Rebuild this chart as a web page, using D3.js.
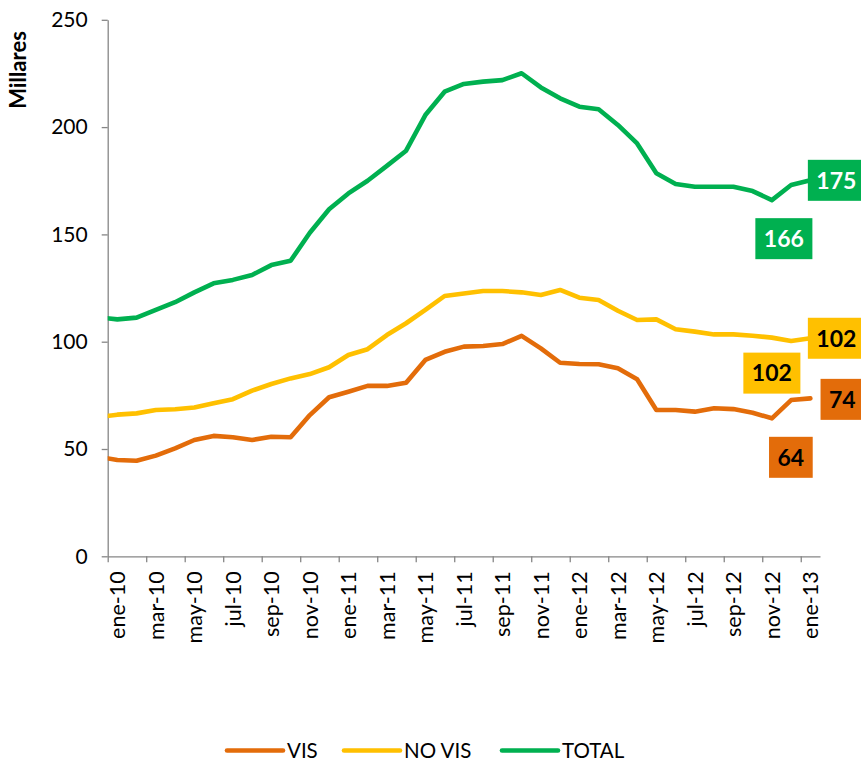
<!DOCTYPE html>
<html>
<head>
<meta charset="utf-8">
<script src="https://cdn.jsdelivr.net/npm/d3@7/dist/d3.min.js"></script>
<style>
  html, body { margin: 0; padding: 0; background: #ffffff; }
  svg { display: block; }
  text { font-family: "Lato", "Open Sans", "Liberation Sans", sans-serif; }
</style>
</head>
<body>
<svg id="chart" width="861" height="762"></svg>
<script>
// ---- data ----
const months = ["dic-09",
  "ene-10","feb-10","mar-10","abr-10","may-10","jun-10","jul-10","ago-10","sep-10","oct-10","nov-10","dic-10",
  "ene-11","feb-11","mar-11","abr-11","may-11","jun-11","jul-11","ago-11","sep-11","oct-11","nov-11","dic-11",
  "ene-12","feb-12","mar-12","abr-12","may-12","jun-12","jul-12","ago-12","sep-12","oct-12","nov-12","dic-12",
  "ene-13"];
const vis = [46.4,
  44.9, 44.5, 46.9, 50.3, 54.2, 56.1, 55.5, 54.2, 55.7, 55.5, 65.8, 74.1,
  76.7, 79.4, 79.4, 80.9, 91.5, 95.3, 97.7, 98.0, 98.9, 102.7, 96.9, 90.2,
  89.6, 89.5, 87.6, 82.5, 68.2, 68.2, 67.4, 69.0, 68.6, 66.9, 64.3, 72.8,
  73.6];
const noVis = [64.8,
  66.0, 66.6, 68.2, 68.5, 69.3, 71.3, 73.2, 77.2, 80.3, 82.9, 84.9, 88.1,
  93.8, 96.5, 103.1, 108.6, 114.8, 121.3, 122.5, 123.6, 123.6, 123.0, 121.8, 124.1,
  120.5, 119.4, 114.4, 110.1, 110.4, 105.8, 104.7, 103.4, 103.4, 102.8, 101.9, 100.3,
  101.6];
const total = [111.4,
  110.4, 111.2, 114.8, 118.4, 123.0, 127.2, 128.8, 131.1, 135.7, 137.7, 150.8, 161.7,
  169.1, 175.0, 181.9, 189.0, 205.6, 216.5, 220.1, 221.2, 221.9, 225.1, 218.5, 213.4,
  209.5, 208.3, 201.0, 192.4, 178.5, 173.5, 172.2, 172.2, 172.2, 170.2, 166.0, 173.0,
  175.2];
const seriesNames = ["VIS", "NO VIS", "TOTAL"];
const xTickLabels = ["ene-10","mar-10","may-10","jul-10","sep-10","nov-10","ene-11","mar-11","may-11",
  "jul-11","sep-11","nov-11","ene-12","mar-12","may-12","jul-12","sep-12","nov-12","ene-13"];
const yTicks = [0, 50, 100, 150, 200, 250];
const yTitle = "Millares";
const labelMonths = ["ene-13", "nov-12"];

(function draw() {
  const colors = { "VIS": "#E36C0A", "NO VIS": "#FFC000", "TOTAL": "#00B050" };
  const labelText = { "VIS": "#000000", "NO VIS": "#000000", "TOTAL": "#ffffff" };
  const svg = d3.select("#chart");
  const mLeft = 107.7, mRight = 820, mTop = 19.8, mBottom = 556.3;
  const firstIdx = months.indexOf("ene-10");
  const nSlots = months.length - firstIdx; // 37

  const x = d3.scaleLinear().domain([0, nSlots]).range([mLeft, mRight]);
  const xPos = i => x(i - firstIdx + 0.5);
  const y = d3.scaleLinear().domain([0, 250]).range([mBottom, mTop]);
  const axisColor = "#868686";

  svg.append("defs").append("clipPath").attr("id", "plotclip")
    .append("rect").attr("x", mLeft).attr("y", 0).attr("width", 861 - mLeft).attr("height", mBottom + 2);

  // y axis
  const yAxis = svg.append("g").attr("transform", `translate(${mLeft},0)`)
    .call(d3.axisLeft(y).tickValues(yTicks).tickSize(6).tickSizeOuter(0).tickPadding(14).tickFormat(d3.format("d")));
  yAxis.select(".domain").attr("stroke", axisColor).attr("stroke-width", 1.3);
  yAxis.selectAll(".tick line").attr("stroke", axisColor).attr("stroke-width", 1.3);
  yAxis.selectAll(".tick text").attr("font-size", 21).attr("fill", "#000")
    .style("font-family", "Lato, 'Open Sans', sans-serif");

  // x axis
  const tickBounds = d3.range(0, nSlots, 2);
  const xAxis = svg.append("g").attr("transform", `translate(0,${mBottom})`)
    .call(d3.axisBottom(x).tickValues(tickBounds).tickSize(6).tickSizeOuter(0).tickFormat(""));
  xAxis.select(".domain").attr("stroke", axisColor).attr("stroke-width", 1.3);
  xAxis.selectAll(".tick line").attr("stroke", axisColor).attr("stroke-width", 1.3);

  svg.append("g").selectAll("text").data(xTickLabels).join("text")
    .attr("transform", d => `translate(${xPos(months.indexOf(d))},${mBottom + 15}) rotate(-90)`)
    .attr("text-anchor", "end")
    .attr("dy", "0.36em")
    .attr("font-size", 21.5)
    .attr("fill", "#000")
    .text(d => d);

  svg.append("text")
    .attr("transform", "translate(26,70) rotate(-90)")
    .attr("text-anchor", "middle")
    .attr("font-size", 22)
    .attr("font-weight", "bold")
    .attr("fill", "#000")
    .text(yTitle);

  const seriesData = [
    { name: "VIS", values: vis },
    { name: "NO VIS", values: noVis },
    { name: "TOTAL", values: total }
  ];
  const line = d3.line().x((d, i) => xPos(i)).y(d => y(d));
  svg.append("g").attr("clip-path", "url(#plotclip)")
    .selectAll("path").data(seriesData).join("path")
    .attr("d", d => line(d.values))
    .attr("fill", "none")
    .attr("stroke", d => colors[d.name])
    .attr("stroke-width", 4.6)
    .attr("stroke-linejoin", "round")
    .attr("stroke-linecap", "round");

  const labelOffsets = {
    "TOTAL|ene-13": [26, 0], "TOTAL|nov-12": [12, 38.6],
    "NO VIS|ene-13": [26, 0], "NO VIS|nov-12": [0, 35.5],
    "VIS|ene-13": [32, 1], "VIS|nov-12": [19, 39]
  };
  const lg = svg.append("g");
  seriesData.forEach(s => {
    labelMonths.forEach(m => {
      const i = months.indexOf(m);
      const off = labelOffsets[s.name + "|" + m];
      const cx = xPos(i) + off[0], cy = y(s.values[i]) + off[1];
      const g = lg.append("g");
      const rect = g.append("rect").attr("fill", colors[s.name]);
      const t = g.append("text")
        .attr("x", cx).attr("y", cy).attr("dy", "0.36em")
        .attr("text-anchor", "middle")
        .attr("font-size", 23).attr("font-weight", "bold")
        .attr("fill", labelText[s.name])
        .text(Math.round(s.values[i]));
      const w = t.node().getComputedTextLength() + 17;
      const h = 41;
      rect.attr("x", cx - w / 2).attr("y", cy - h / 2).attr("width", w).attr("height", h);
    });
  });

  const legendX = { "VIS": 227, "NO VIS": 344, "TOTAL": 502 };
  const legY = 750.5;
  const leg = svg.append("g").selectAll("g").data(seriesNames).join("g")
    .attr("transform", d => `translate(${legendX[d]},${legY})`);
  leg.append("line").attr("x1", 0).attr("x2", 56).attr("y1", 0).attr("y2", 0)
    .attr("stroke", d => colors[d]).attr("stroke-width", 4.6).attr("stroke-linecap", "round");
  leg.append("text").attr("x", 60).attr("dy", "0.35em").attr("font-size", 20.5).attr("fill", "#000")
    .text(d => d);
})();
</script>
</body>
</html>
